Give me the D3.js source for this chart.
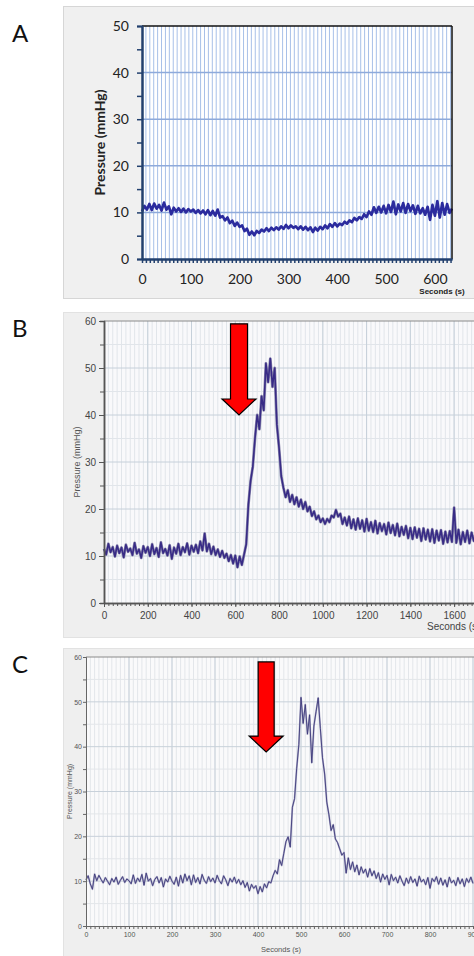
<!DOCTYPE html>
<html>
<head>
<meta charset="utf-8">
<script src="https://cdn.jsdelivr.net/npm/d3@7"></script>
<style>
  body { margin: 0; background: #fff; }
  svg { display: block; }
</style>
</head>
<body>
<svg id="fig"></svg>
<script>
// ---- data ----
const timesA = d3.range(0, 636, 5);   // seconds, sampling grid of panel A
const valuesA = [
  10.2, 11.4, 10.6, 11.8, 10.5, 11.9, 10.8, 11.6, 10.4, 12.1,
  10.6, 11.3, 9.6, 11.0, 10.2, 10.9, 10.1, 10.8, 10.0, 10.7,
  10.2, 10.6, 9.9, 10.5, 9.8, 10.4, 9.6, 10.5, 9.4, 10.3,
  9.3, 10.6, 8.9, 9.2, 8.3, 8.9, 7.7, 8.2, 7.1, 7.8,
  6.9, 7.2, 6.0, 6.5, 5.2, 5.9, 5.1, 6.0, 5.6, 6.3,
  5.9, 6.6, 6.0, 6.7, 6.2, 6.8, 6.3, 7.0, 6.5, 7.3,
  6.6, 7.2, 6.7, 7.0, 6.4, 7.0, 6.3, 6.9, 6.2, 6.8,
  5.8, 6.7, 6.1, 6.9, 6.4, 7.2, 6.6, 7.5, 6.9, 7.7,
  7.0, 7.6, 7.3, 8.0, 7.6, 8.3, 7.9, 8.8, 8.3, 9.0,
  8.6, 9.6, 9.0, 10.2, 9.5, 11.1, 9.9, 11.2, 10.0, 11.4,
  9.8, 11.6, 10.1, 12.3, 9.6, 11.7, 10.2, 12.0, 9.9, 11.8,
  10.3, 11.5, 9.7, 11.4, 9.8, 10.9, 9.5, 11.2, 8.4, 11.6,
  9.3, 12.4, 8.9, 12.0, 9.5, 11.8, 9.9, 10.8
];

const timesB = d3.range(0, 1701, 10);
const valuesB = [
  11.5, 10.3, 12.6, 10.8, 11.9, 9.9, 12.2, 10.6, 11.8, 9.7,
  12.4, 10.9, 11.6, 10.2, 12.8, 10.5, 11.4, 9.6, 12.1, 10.7,
  11.9, 10.0, 12.5, 10.4, 11.7, 9.8, 12.9, 10.6, 11.5, 10.1,
  12.3, 9.4, 11.8, 10.5, 12.6, 10.2, 11.9, 10.8, 12.7, 10.3,
  12.2, 10.9, 12.4, 10.6, 13.1, 11.2, 14.8, 11.0, 12.6, 10.4,
  12.0, 10.2, 11.4, 9.8, 11.1, 9.6, 10.5, 8.9, 10.2, 8.4,
  10.1, 7.6, 9.9, 8.1, 10.3, 12.5, 21.0, 26.0, 29.0, 35.0,
  40.0, 37.0, 44.0, 41.0, 51.0, 47.0, 52.0, 46.0, 50.0, 38.0,
  33.0, 27.0, 24.5, 22.5, 24.0, 21.5, 23.0, 21.0, 22.5, 20.5,
  22.0, 20.0, 21.5, 19.5, 20.5, 18.5, 19.5, 17.8, 18.6, 17.2,
  18.0, 16.8, 17.9, 17.2, 18.6, 18.2, 19.8, 18.4, 19.0, 16.8,
  18.2, 16.5, 18.4, 15.9, 17.8, 15.6, 18.0, 15.8, 17.6, 15.2,
  17.9, 15.4, 17.2, 15.1, 17.5, 14.8, 17.0, 15.3, 16.8, 14.6,
  17.1, 14.9, 16.6, 14.4, 16.9, 14.2, 16.2, 14.5, 16.4, 13.8,
  16.0, 13.6, 16.1, 13.9, 15.8, 13.2, 15.9, 13.5, 15.6, 13.1,
  15.7, 12.8, 15.4, 13.3, 15.5, 12.6, 15.2, 12.9, 15.3, 13.0,
  20.3, 12.8, 15.6, 12.5, 15.1, 13.0, 15.4, 12.7, 15.0, 13.2,
  14.9
];

const timesC = d3.range(0, 901, 5);
const valuesC = [
  10.3, 11.2, 9.4, 8.2, 11.6, 10.1, 11.3, 10.4, 9.6, 10.8,
  10.0, 9.2, 10.6, 9.8, 10.9, 9.3, 10.2, 11.0, 9.7, 10.5,
  10.1, 9.4, 11.4, 9.5, 10.7, 9.9, 11.5, 9.1, 11.8, 10.0,
  10.6, 9.0, 10.4, 11.0, 9.6, 10.8, 8.7, 10.5, 9.8, 11.1,
  10.0, 9.3, 10.9, 8.9, 11.3, 9.6, 11.6, 10.1, 11.2, 9.2,
  11.4, 9.7, 10.8, 9.4, 11.5, 10.2, 9.5, 11.0, 9.9, 10.7,
  9.6, 11.3, 10.1, 9.4, 11.2, 10.3, 9.0, 10.6, 9.8, 10.9,
  9.5, 10.4, 9.2, 10.1, 8.6, 9.7, 7.8, 9.3, 8.4, 9.0,
  7.2, 8.8, 7.6, 9.4, 8.5, 9.9, 9.6, 11.2, 12.4, 11.6,
  14.8, 13.5, 16.2, 18.8, 19.9, 17.6, 26.5, 28.4, 35.2, 40.5,
  51.0, 45.2, 49.4, 42.8, 47.1, 36.4, 44.6, 47.8, 50.9, 44.1,
  37.5, 33.9, 27.6, 24.8, 21.3, 22.6, 19.4, 18.6, 17.2, 15.8,
  16.4, 11.8, 15.2, 12.6, 14.3, 12.1, 13.6, 11.4, 13.2, 11.8,
  12.7, 10.9, 12.8, 11.2, 12.3, 10.6, 11.9, 9.8, 11.6, 10.4,
  11.3, 9.2, 11.5, 10.1, 10.9, 9.6, 11.2, 10.0, 9.0, 10.7,
  9.5, 11.0, 9.7, 10.5, 8.9, 11.1, 9.8, 10.4, 9.2, 10.8,
  8.4, 10.6, 9.9, 11.0, 9.3, 10.7, 9.1, 10.3, 8.7, 10.9,
  9.6, 10.2, 9.0, 10.8, 9.4, 10.5, 8.8, 10.6, 9.7, 10.9,
  9.5
];

// tick labels
const xTicksA = [0, 100, 200, 300, 400, 500, 600];
const yTicksA = [0, 10, 20, 30, 40, 50];
const xTicksB = [0, 200, 400, 600, 800, 1000, 1200, 1400, 1600];
const yTicksB = [0, 10, 20, 30, 40, 50, 60];
const xTicksC = [0, 100, 200, 300, 400, 500, 600, 700, 800, 900];
const yTicksC = [0, 10, 20, 30, 40, 50, 60];

// arrows: [time (s), top value, tip value]
const arrowB = [617, 59.4, 40.0];
const arrowC = [419, 58.9, 38.8];

const W = 474, H = 956;
const svg = d3.select("#fig").attr("width", W).attr("height", H);
svg.append("rect").attr("width", W).attr("height", H).attr("fill", "#fff");

const toPoints = (ts, vs) => ts.map((t, i) => ({ t: t, v: vs[i] }));
const plain = d3.format("d");

function styleAxis(g, color, width, font, size, textColor) {
  g.select(".domain").attr("stroke", color).attr("stroke-width", width);
  g.selectAll(".tick line").attr("stroke", color).attr("stroke-width", width > 1.5 ? 1.5 : 1);
  g.selectAll(".tick text").attr("font-family", font).attr("font-size", size).attr("fill", textColor);
}

function drawArrow(x, y, a, shaftW, headW, headL) {
  const cx = x(a[0]), top = y(a[1]), tip = y(a[2]);
  const pts = [
    [cx - shaftW, top], [cx + shaftW, top], [cx + shaftW, tip - headL],
    [cx + headW, tip - headL], [cx, tip], [cx - headW, tip - headL],
    [cx - shaftW, tip - headL]
  ];
  svg.append("polygon")
    .attr("points", pts.map(p => p.join(",")).join(" "))
    .attr("fill", "#ff0000")
    .attr("stroke", "#000")
    .attr("stroke-width", 1.2)
    .attr("stroke-linejoin", "miter");
}

function panelLetter(txt, y) {
  svg.append("text")
    .attr("x", 12).attr("y", y)
    .attr("font-family", "Lato, 'Open Sans', sans-serif")
    .attr("font-size", "24px")
    .attr("fill", "#111")
    .text(txt);
}

// ================= Panel A =================
const xA = d3.scaleLinear().domain([0, 635]).range([142, 452]);
const yA = d3.scaleLinear().domain([0, 50]).range([259, 26]);

svg.append("rect").attr("x", 63.5).attr("y", 6.5).attr("width", 430).attr("height", 292)
  .attr("fill", "#f0f0f0").attr("stroke", "#d6d6d6");
svg.append("rect").attr("x", xA(0)).attr("y", yA(50))
  .attr("width", xA(635) - xA(0)).attr("height", yA(0) - yA(50)).attr("fill", "#fff");

const gA = svg.append("g");
gA.selectAll(".vgA").data(d3.range(8, 635, 8)).join("line")
  .attr("x1", d => xA(d)).attr("x2", d => xA(d))
  .attr("y1", yA(50)).attr("y2", yA(0))
  .attr("stroke", "#a8c0e8").attr("stroke-width", 1);
gA.selectAll(".hgA").data([10, 20, 30, 40]).join("line")
  .attr("x1", xA(0)).attr("x2", xA(635))
  .attr("y1", d => yA(d)).attr("y2", d => yA(d))
  .attr("stroke", "#8eaadb").attr("stroke-width", 1.5);

// trace
gA.append("path")
  .attr("d", d3.line().x(d => xA(d.t)).y(d => yA(d.v))(toPoints(timesA, valuesA)))
  .attr("fill", "none").attr("stroke", "#2b2b9e").attr("stroke-width", 2.7)
  .attr("stroke-linejoin", "round");

// frame
gA.append("line").attr("x1", xA(0)).attr("x2", xA(635)).attr("y1", yA(50)).attr("y2", yA(50))
  .attr("stroke", "#111").attr("stroke-width", 1.5);
gA.append("line").attr("x1", xA(635)).attr("x2", xA(635)).attr("y1", yA(50)).attr("y2", yA(0))
  .attr("stroke", "#111").attr("stroke-width", 1.5);

const fontA = "Lato, 'Open Sans', sans-serif";
const axA_minorY = svg.append("g").attr("transform", `translate(${xA(0)},0)`)
  .call(d3.axisLeft(yA).tickValues([5, 15, 25, 35, 45]).tickSize(5).tickFormat(""));
styleAxis(axA_minorY, "#22406e", 2, fontA, "14px", "#222");
const axA_y = svg.append("g").attr("transform", `translate(${xA(0)},0)`)
  .call(d3.axisLeft(yA).tickValues(yTicksA).tickSize(5).tickSizeOuter(0).tickPadding(8));
styleAxis(axA_y, "#22406e", 2, fontA, "14px", "#222");

const axA_minorX = svg.append("g").attr("transform", `translate(0,${yA(0)})`)
  .call(d3.axisBottom(xA).tickValues(d3.range(0, 636, 8)).tickSize(4).tickSizeOuter(0).tickFormat(""));
styleAxis(axA_minorX, "#22406e", 2, fontA, "14px", "#222");
const axA_x = svg.append("g").attr("transform", `translate(0,${yA(0)})`)
  .call(d3.axisBottom(xA).tickValues(xTicksA).tickSize(0).tickSizeOuter(0).tickPadding(15));
styleAxis(axA_x, "#22406e", 2, fontA, "14px", "#222");

svg.append("text")
  .attr("transform", `translate(105,${(yA(0) + yA(50)) / 2}) rotate(-90)`)
  .attr("text-anchor", "middle")
  .attr("font-family", fontA).attr("font-weight", "bold").attr("font-size", "14px")
  .attr("fill", "#222")
  .text("Pressure (mmHg)");
svg.append("text")
  .attr("x", 442).attr("y", 294)
  .attr("text-anchor", "middle")
  .attr("font-family", "'Liberation Sans', Arial, sans-serif").attr("font-weight", "bold")
  .attr("font-size", "8px").attr("fill", "#222")
  .text("Seconds (s)");

panelLetter("A", 42);

// ================= Panel B =================
const xB = d3.scaleLinear().domain([0, 1700]).range([104, 476]);
const yB = d3.scaleLinear().domain([0, 60]).range([603, 321]);

svg.append("rect").attr("x", 63.5).attr("y", 312.5).attr("width", 430).attr("height", 325)
  .attr("fill", "#efefef").attr("stroke", "#e2e2e2");
svg.append("rect").attr("x", xB(0)).attr("y", yB(60))
  .attr("width", xB(1700) - xB(0) + 10).attr("height", yB(0) - yB(60)).attr("fill", "#f9f9fb");

const gB = svg.append("g");
gB.selectAll(".vmB").data(d3.range(20, 1800, 20)).join("line")
  .attr("x1", d => xB(d)).attr("x2", d => xB(d))
  .attr("y1", yB(60)).attr("y2", yB(0))
  .attr("stroke", "#e1e5ea").attr("stroke-width", 1);
gB.selectAll(".hmB").data([5, 15, 25, 35, 45, 55]).join("line")
  .attr("x1", xB(0)).attr("x2", W)
  .attr("y1", d => yB(d)).attr("y2", d => yB(d))
  .attr("stroke", "#e1e5ea").attr("stroke-width", 1);
gB.selectAll(".vgB").data(d3.range(200, 1800, 200)).join("line")
  .attr("x1", d => xB(d)).attr("x2", d => xB(d))
  .attr("y1", yB(60)).attr("y2", yB(0))
  .attr("stroke", "#c6d0da").attr("stroke-width", 1);
gB.selectAll(".hgB").data([10, 20, 30, 40, 50]).join("line")
  .attr("x1", xB(0)).attr("x2", W)
  .attr("y1", d => yB(d)).attr("y2", d => yB(d))
  .attr("stroke", "#c6d0da").attr("stroke-width", 1);
gB.append("line").attr("x1", xB(0)).attr("x2", W).attr("y1", yB(60)).attr("y2", yB(60))
  .attr("stroke", "#8a8a8a").attr("stroke-width", 1);

const lineB = d3.line().x(d => xB(d.t)).y(d => yB(d.v));
const ptsB = toPoints(timesB, valuesB);
gB.append("path").attr("d", lineB(ptsB))
  .attr("fill", "none").attr("stroke", "#8d8aae").attr("stroke-width", 2.8).attr("stroke-linejoin", "round");
gB.append("path").attr("d", lineB(ptsB))
  .attr("fill", "none").attr("stroke", "#382b86").attr("stroke-width", 1.6).attr("stroke-linejoin", "round");

const fontB = "'Liberation Sans', Arial, sans-serif";
const axB_minorY = svg.append("g").attr("transform", `translate(${xB(0)},0)`)
  .call(d3.axisLeft(yB).tickValues([5, 15, 25, 35, 45, 55]).tickSize(4).tickFormat(""));
styleAxis(axB_minorY, "#555", 1.5, fontB, "10px", "#444");
const axB_y = svg.append("g").attr("transform", `translate(${xB(0)},0)`)
  .call(d3.axisLeft(yB).tickValues(yTicksB).tickSize(5).tickSizeOuter(0).tickPadding(3));
styleAxis(axB_y, "#555", 1.5, fontB, "10px", "#444");
const axB_minorX = svg.append("g").attr("transform", `translate(0,${yB(0)})`)
  .call(d3.axisBottom(xB).tickValues(d3.range(0, 1701, 20)).tickSize(3).tickSizeOuter(0).tickFormat(""));
styleAxis(axB_minorX, "#555", 1.5, fontB, "10px", "#444");
const axB_x = svg.append("g").attr("transform", `translate(0,${yB(0)})`)
  .call(d3.axisBottom(xB).tickValues(xTicksB).tickFormat(plain).tickSize(4).tickSizeOuter(0).tickPadding(5));
styleAxis(axB_x, "#555", 1.5, fontB, "10px", "#444");

svg.append("text")
  .attr("transform", `translate(80,${(yB(0) + yB(60)) / 2}) rotate(-90)`)
  .attr("text-anchor", "middle")
  .attr("font-family", fontB).attr("font-size", "9px").attr("fill", "#555")
  .text("Pressure (mmHg)");
svg.append("text")
  .attr("x", 427).attr("y", 630)
  .attr("font-family", fontB).attr("font-size", "10px").attr("fill", "#444")
  .text("Seconds (s)");

drawArrow(xB, yB, arrowB, 8.5, 17, 16);
panelLetter("B", 337);

// ================= Panel C =================
const xC = d3.scaleLinear().domain([0, 920]).range([86, 481.6]);
const yC = d3.scaleLinear().domain([0, 60]).range([926, 657]);

svg.append("rect").attr("x", 63.5).attr("y", 648.5).attr("width", 430).attr("height", 320)
  .attr("fill", "#efefef").attr("stroke", "#e2e2e2");
svg.append("rect").attr("x", xC(0)).attr("y", yC(60))
  .attr("width", W - xC(0)).attr("height", yC(0) - yC(60)).attr("fill", "#fafafb");

const gC = svg.append("g");
gC.selectAll(".vmC").data(d3.range(10, 920, 10)).join("line")
  .attr("x1", d => xC(d)).attr("x2", d => xC(d))
  .attr("y1", yC(60)).attr("y2", yC(0))
  .attr("stroke", "#e3e6ea").attr("stroke-width", 1);
gC.selectAll(".hmC").data([5, 15, 25, 35, 45, 55]).join("line")
  .attr("x1", xC(0)).attr("x2", W)
  .attr("y1", d => yC(d)).attr("y2", d => yC(d))
  .attr("stroke", "#e3e6ea").attr("stroke-width", 1);
gC.selectAll(".vgC").data(d3.range(100, 920, 100)).join("line")
  .attr("x1", d => xC(d)).attr("x2", d => xC(d))
  .attr("y1", yC(60)).attr("y2", yC(0))
  .attr("stroke", "#c8d1da").attr("stroke-width", 1);
gC.selectAll(".hgC").data([10, 20, 30, 40, 50]).join("line")
  .attr("x1", xC(0)).attr("x2", W)
  .attr("y1", d => yC(d)).attr("y2", d => yC(d))
  .attr("stroke", "#c8d1da").attr("stroke-width", 1);
gC.append("line").attr("x1", xC(0)).attr("x2", W).attr("y1", yC(60)).attr("y2", yC(60))
  .attr("stroke", "#8a8a8a").attr("stroke-width", 1);

const lineC = d3.line().x(d => xC(d.t)).y(d => yC(d.v));
const ptsC = toPoints(timesC, valuesC);
gC.append("path").attr("d", lineC(ptsC))
  .attr("fill", "none").attr("stroke", "#aeacc8").attr("stroke-width", 1.8).attr("stroke-linejoin", "round");
gC.append("path").attr("d", lineC(ptsC))
  .attr("fill", "none").attr("stroke", "#3d3a7a").attr("stroke-width", 0.9).attr("stroke-linejoin", "round");

const fontC = "'Liberation Sans', Arial, sans-serif";
const axC_minorY = svg.append("g").attr("transform", `translate(${xC(0)},0)`)
  .call(d3.axisLeft(yC).tickValues([5, 15, 25, 35, 45, 55]).tickSize(3).tickFormat(""));
styleAxis(axC_minorY, "#666", 1, fontC, "7px", "#555");
const axC_y = svg.append("g").attr("transform", `translate(${xC(0)},0)`)
  .call(d3.axisLeft(yC).tickValues(yTicksC).tickSize(3).tickSizeOuter(0).tickPadding(1));
styleAxis(axC_y, "#666", 1, fontC, "7px", "#555");
const axC_minorX = svg.append("g").attr("transform", `translate(0,${yC(0)})`)
  .call(d3.axisBottom(xC).tickValues(d3.range(0, 911, 10)).tickSize(3).tickSizeOuter(0).tickFormat(""));
styleAxis(axC_minorX, "#666", 1, fontC, "7px", "#555");
const axC_x = svg.append("g").attr("transform", `translate(0,${yC(0)})`)
  .call(d3.axisBottom(xC).tickValues(xTicksC).tickFormat(plain).tickSize(3).tickSizeOuter(0).tickPadding(3));
styleAxis(axC_x, "#666", 1, fontC, "7px", "#555");

svg.append("text")
  .attr("transform", `translate(72,${(yC(0) + yC(60)) / 2}) rotate(-90)`)
  .attr("text-anchor", "middle")
  .attr("font-family", fontC).attr("font-size", "7px").attr("fill", "#555")
  .text("Pressure (mmHg)");
svg.append("text")
  .attr("x", 281).attr("y", 952)
  .attr("text-anchor", "middle")
  .attr("font-family", fontC).attr("font-size", "7.5px").attr("fill", "#555")
  .text("Seconds (s)");

drawArrow(xC, yC, arrowC, 8, 17, 16);
panelLetter("C", 673);
</script>
</body>
</html>
